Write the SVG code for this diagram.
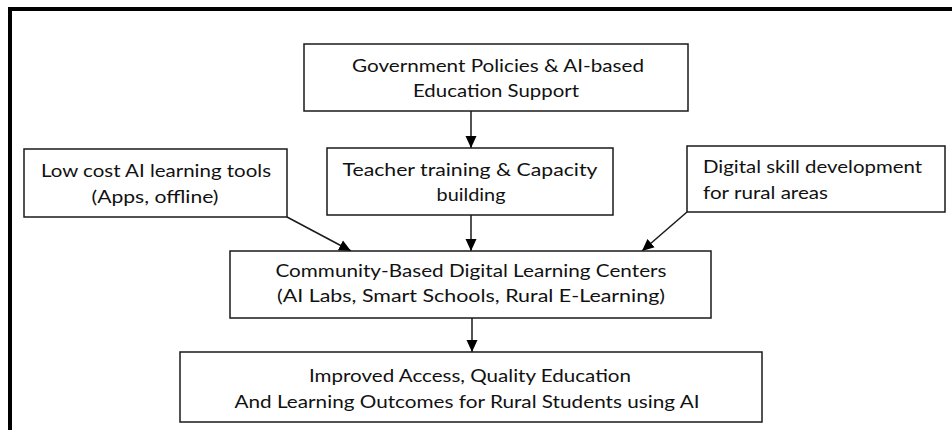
<svg xmlns="http://www.w3.org/2000/svg" width="952" height="430" viewBox="0 0 952 430">
  <style>
    .box { fill: #ffffff; stroke: #1a1a1a; stroke-width: 1.5; }
    .lbl { font-family: "Lato", "Liberation Sans", sans-serif; font-size: 18px; fill: #111111; }
    .mid { text-anchor: middle; }
    .conn { stroke: #1a1a1a; stroke-width: 1.5; fill: none; marker-end: url(#head); }
  </style>
  <defs>
    <marker id="head" markerUnits="userSpaceOnUse" markerWidth="12" markerHeight="12" refX="12" refY="6" orient="auto">
      <path d="M0,0.5 L12,6 L0,11.5 Z" fill="#000000"/>
    </marker>
  </defs>

  <rect width="952" height="430" fill="#ffffff"/>
  <!-- outer frame (left and top edges) -->
  <path d="M10,430 V9 H952" fill="none" stroke="#000000" stroke-width="4"/>

  <g id="connectors">
    <line class="conn" x1="471" y1="111" x2="471" y2="148"/>
    <line class="conn" x1="287" y1="217" x2="351" y2="251"/>
    <line class="conn" x1="471" y1="215" x2="471" y2="251"/>
    <line class="conn" x1="687" y1="212" x2="642" y2="251"/>
    <line class="conn" x1="472" y1="318" x2="472" y2="352"/>
  </g>

  <g id="gov">
    <rect class="box" x="304" y="44" width="384" height="67"/>
    <text class="lbl mid" x="498" y="72" textLength="292" lengthAdjust="spacingAndGlyphs">Government Policies &amp; AI-based</text>
    <text class="lbl mid" x="496" y="97" textLength="166" lengthAdjust="spacingAndGlyphs">Education Support</text>
  </g>

  <g id="lowcost">
    <rect class="box" x="24" y="149" width="263" height="68"/>
    <text class="lbl mid" x="156" y="177" textLength="230" lengthAdjust="spacingAndGlyphs">Low cost AI learning tools</text>
    <text class="lbl mid" x="155" y="203" textLength="127" lengthAdjust="spacingAndGlyphs">(Apps, offline)</text>
  </g>

  <g id="teacher">
    <rect class="box" x="327" y="148" width="286" height="67"/>
    <text class="lbl mid" x="470" y="176" textLength="255" lengthAdjust="spacingAndGlyphs">Teacher training &amp; Capacity</text>
    <text class="lbl mid" x="471" y="201" textLength="69" lengthAdjust="spacingAndGlyphs">building</text>
  </g>

  <g id="digital">
    <rect class="box" x="687" y="146" width="258" height="66"/>
    <text class="lbl" x="703" y="173" textLength="219" lengthAdjust="spacingAndGlyphs">Digital skill development</text>
    <text class="lbl" x="703" y="199" textLength="125" lengthAdjust="spacingAndGlyphs">for rural areas</text>
  </g>

  <g id="community">
    <rect class="box" x="230" y="251" width="481" height="67"/>
    <text class="lbl mid" x="471" y="277" textLength="391" lengthAdjust="spacingAndGlyphs">Community-Based Digital Learning Centers</text>
    <text class="lbl mid" x="471" y="302" textLength="388" lengthAdjust="spacingAndGlyphs">(AI Labs, Smart Schools, Rural E-Learning)</text>
  </g>

  <g id="outcomes">
    <rect class="box" x="180" y="352" width="582" height="70"/>
    <text class="lbl mid" x="470" y="382" textLength="322" lengthAdjust="spacingAndGlyphs">Improved Access, Quality Education</text>
    <text class="lbl mid" x="467" y="408" textLength="465" lengthAdjust="spacingAndGlyphs">And Learning Outcomes for Rural Students using AI</text>
  </g>
</svg>
